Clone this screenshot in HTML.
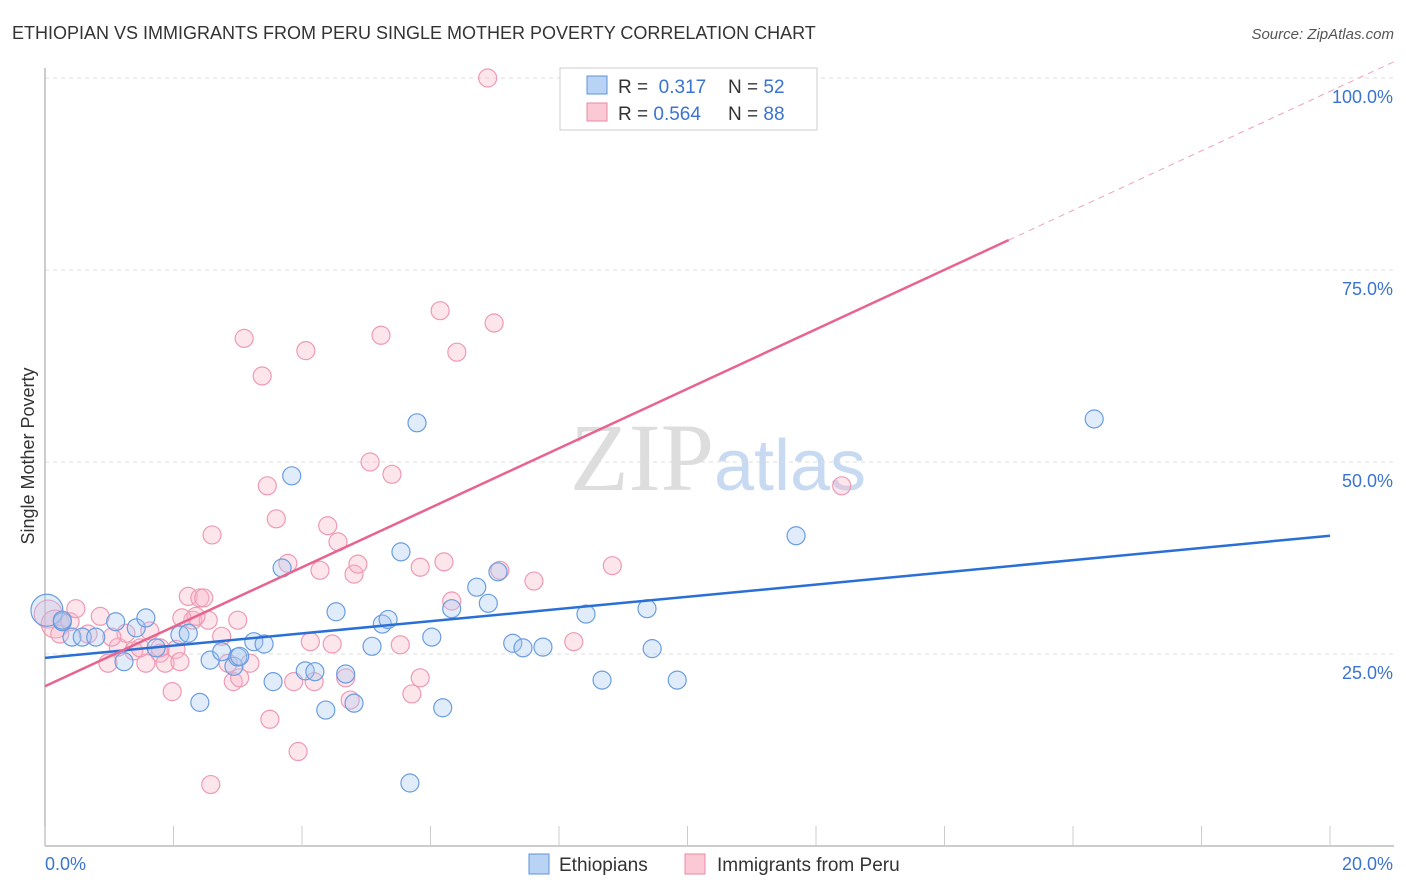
<!DOCTYPE html>
<html><head><meta charset="utf-8"><style>
body{margin:0;background:#fff;font-family:"Liberation Sans",sans-serif}
svg{display:block}
</style></head><body>
<svg width="1406" height="892" id="chart">
<text x="12" y="39" font-size="18" fill="#333">ETHIOPIAN VS IMMIGRANTS FROM PERU SINGLE MOTHER POVERTY CORRELATION CHART</text>
<text x="1394" y="39" font-size="15" fill="#555" text-anchor="end" font-style="italic">Source: ZipAtlas.com</text>
<text x="718" y="490" font-size="96" text-anchor="middle" fill="#ddd" font-family="Liberation Serif, serif">ZIP<tspan fill="#c8daf2" font-family="Liberation Sans, sans-serif" font-size="72">atlas</tspan></text>
<text transform="translate(34,456) rotate(-90)" font-size="18" fill="#333" text-anchor="middle">Single Mother Poverty</text>
<g id="grid"></g><g id="pts"></g><g id="lines"></g>
<g>
<rect x="560" y="68" width="257" height="62" fill="#fff" stroke="#ccc"/>
<rect x="587" y="76" width="20" height="18" fill="#b9d3f5" stroke="#5d93d8"/>
<rect x="587" y="103" width="20" height="18" fill="#fbc8d6" stroke="#e98aa5"/>
<text x="618" y="93" font-size="19" fill="#333">R = <tspan fill="#3a74d0">&#160;0.317</tspan><tspan x="728">N = </tspan><tspan fill="#3a74d0">52</tspan></text>
<text x="618" y="120" font-size="19" fill="#333">R = <tspan fill="#3a74d0">0.564</tspan><tspan x="728">N = </tspan><tspan fill="#3a74d0">88</tspan></text>
</g>
<g>
<rect x="529" y="854" width="20" height="20" fill="#b9d3f5" stroke="#5d93d8"/>
<text x="559" y="871" font-size="19" fill="#333">Ethiopians</text>
<rect x="685" y="854" width="20" height="20" fill="#fbc8d6" stroke="#e98aa5"/>
<text x="717" y="871" font-size="19" fill="#333">Immigrants from Peru</text>
</g>
</svg>
<script>
const xTicks=[0,20];
const yTicks=[25,50,75,100];
const blueX=[0.03,0.27,0.42,0.58,0.79,1.10,1.23,1.42,1.57,1.73,2.10,2.23,2.41,2.57,2.75,2.94,3.00,3.25,3.41,3.55,3.69,3.84,4.05,4.20,4.37,4.53,4.68,4.81,5.09,5.25,5.34,5.54,5.79,6.02,6.19,6.33,6.72,6.90,7.05,7.28,7.44,7.75,8.42,8.67,9.37,9.45,9.84,11.69,16.33,5.68,0.27,3.03];
const blueY=[30.7,29.2,27.2,27.2,27.2,29.2,24.0,28.4,29.7,25.8,27.5,27.7,18.7,24.2,25.3,23.4,24.6,26.6,26.3,21.4,36.2,48.2,22.8,22.7,17.7,30.5,22.4,18.6,26.0,28.9,29.5,38.3,55.1,27.2,18.0,30.9,33.7,31.6,35.7,26.4,25.8,25.9,30.2,21.6,30.9,25.7,21.6,40.4,55.6,8.2,29.4,24.7];
const pinkX=[0.05,0.16,0.23,0.39,0.67,0.86,0.98,1.14,1.26,1.38,1.57,1.63,1.79,1.87,1.98,2.04,2.10,2.23,2.30,2.41,2.47,2.54,2.60,2.75,2.85,2.93,3.00,3.03,3.10,3.19,3.38,3.46,3.50,3.60,3.78,3.87,3.94,4.06,4.13,4.19,4.28,4.40,4.47,4.56,4.68,4.75,4.81,4.87,5.06,5.23,5.40,5.53,5.71,5.84,5.84,6.15,6.21,6.33,6.41,6.89,6.99,7.08,7.61,8.23,8.83,11.33,12.40,2.58,1.79,0.48,1.04,1.48,2.35,2.13];
const pinkY=[30.2,28.9,27.6,29.2,27.6,29.9,23.8,25.9,27.7,25.4,23.8,28.0,25.1,23.8,20.1,25.6,24.0,32.5,29.4,32.3,32.3,29.4,40.5,27.3,23.8,21.4,29.4,21.9,66.1,23.8,61.2,46.9,16.5,42.6,36.8,21.4,12.3,64.5,26.6,21.4,35.9,41.7,26.3,39.6,21.9,19.0,35.4,36.7,50.0,66.5,48.4,26.2,19.8,36.3,21.9,69.7,37.0,31.9,64.3,100,68.1,35.9,34.5,26.6,36.5,100,46.9,8.0,25.8,30.9,27.2,25.8,29.9,29.7];
const blueFit=[24.5,40.4];
const pinkFit=[20.8,78.9];
const X=v=>45+v/20*1285, Y=v=>846-v/100*768;
const NS="http://www.w3.org/2000/svg";
function mk(p,tag,a){const e=document.createElementNS(NS,tag);for(const k in a)e.setAttribute(k,a[k]);p.appendChild(e);return e;}
const grid=document.getElementById('grid');
yTicks.forEach(t=>{
const l=mk(grid,'line',{x1:45,x2:1394,y1:Y(t),y2:Y(t),stroke:'#ddd','stroke-dasharray':'4,4'});


const tx=mk(grid,'text',{x:1393,y:Y(t)+25,'font-size':18,fill:'#3a74d0','text-anchor':'end'});tx.textContent=t.toFixed(1)+'%';


});
const ax=mk(grid,'line',{x1:45,x2:1394,y1:846,y2:846,stroke:'#bbb','stroke-width':1.5});


const ay=mk(grid,'line',{x1:45,x2:45,y1:68,y2:846,stroke:'#bbb','stroke-width':1.5});


for(let i=0;i<=10;i++){const tk=mk(grid,'line',{x1:X(i*2),x2:X(i*2),y1:826,y2:846,stroke:'#ccc'});

}
xTicks.forEach((t,i)=>{const tx=mk(grid,'text',{x:i?1393:45,y:870,'font-size':18,fill:'#3a74d0','text-anchor':i?'end':'start'});tx.textContent=t.toFixed(1)+'%';

});
const pts=document.getElementById('pts');
pinkX.forEach((v,i)=>{const c=mk(pts,'circle',{cx:X(v),cy:Y(pinkY[i]),r:i<2?14:9,fill:'rgba(248,180,200,0.35)',stroke:'#ee9ab3','stroke-width':1.2});

});
blueX.forEach((v,i)=>{const c=mk(pts,'circle',{cx:X(v),cy:Y(blueY[i]),r:i<1?16:9,fill:'rgba(170,200,240,0.35)',stroke:'#6a9de0','stroke-width':1.2});

});
const lines=document.getElementById('lines');
const bl=mk(lines,'line',{x1:X(0),y1:Y(blueFit[0]),x2:X(20),y2:Y(blueFit[1]),stroke:'#2a6fd6','stroke-width':2.5});


const pl=mk(lines,'line',{x1:X(0),y1:Y(pinkFit[0]),x2:X(15),y2:Y(pinkFit[1]),stroke:'#e8648e','stroke-width':2.5});


const slope=(pinkFit[1]-pinkFit[0])/15;
const pd=mk(lines,'line',{x1:X(15),y1:Y(pinkFit[1]),x2:X(21),y2:Y(pinkFit[0]+slope*21),stroke:'#f0a0b8','stroke-width':1,'stroke-dasharray':'6,5'});


</script>
</body></html>
